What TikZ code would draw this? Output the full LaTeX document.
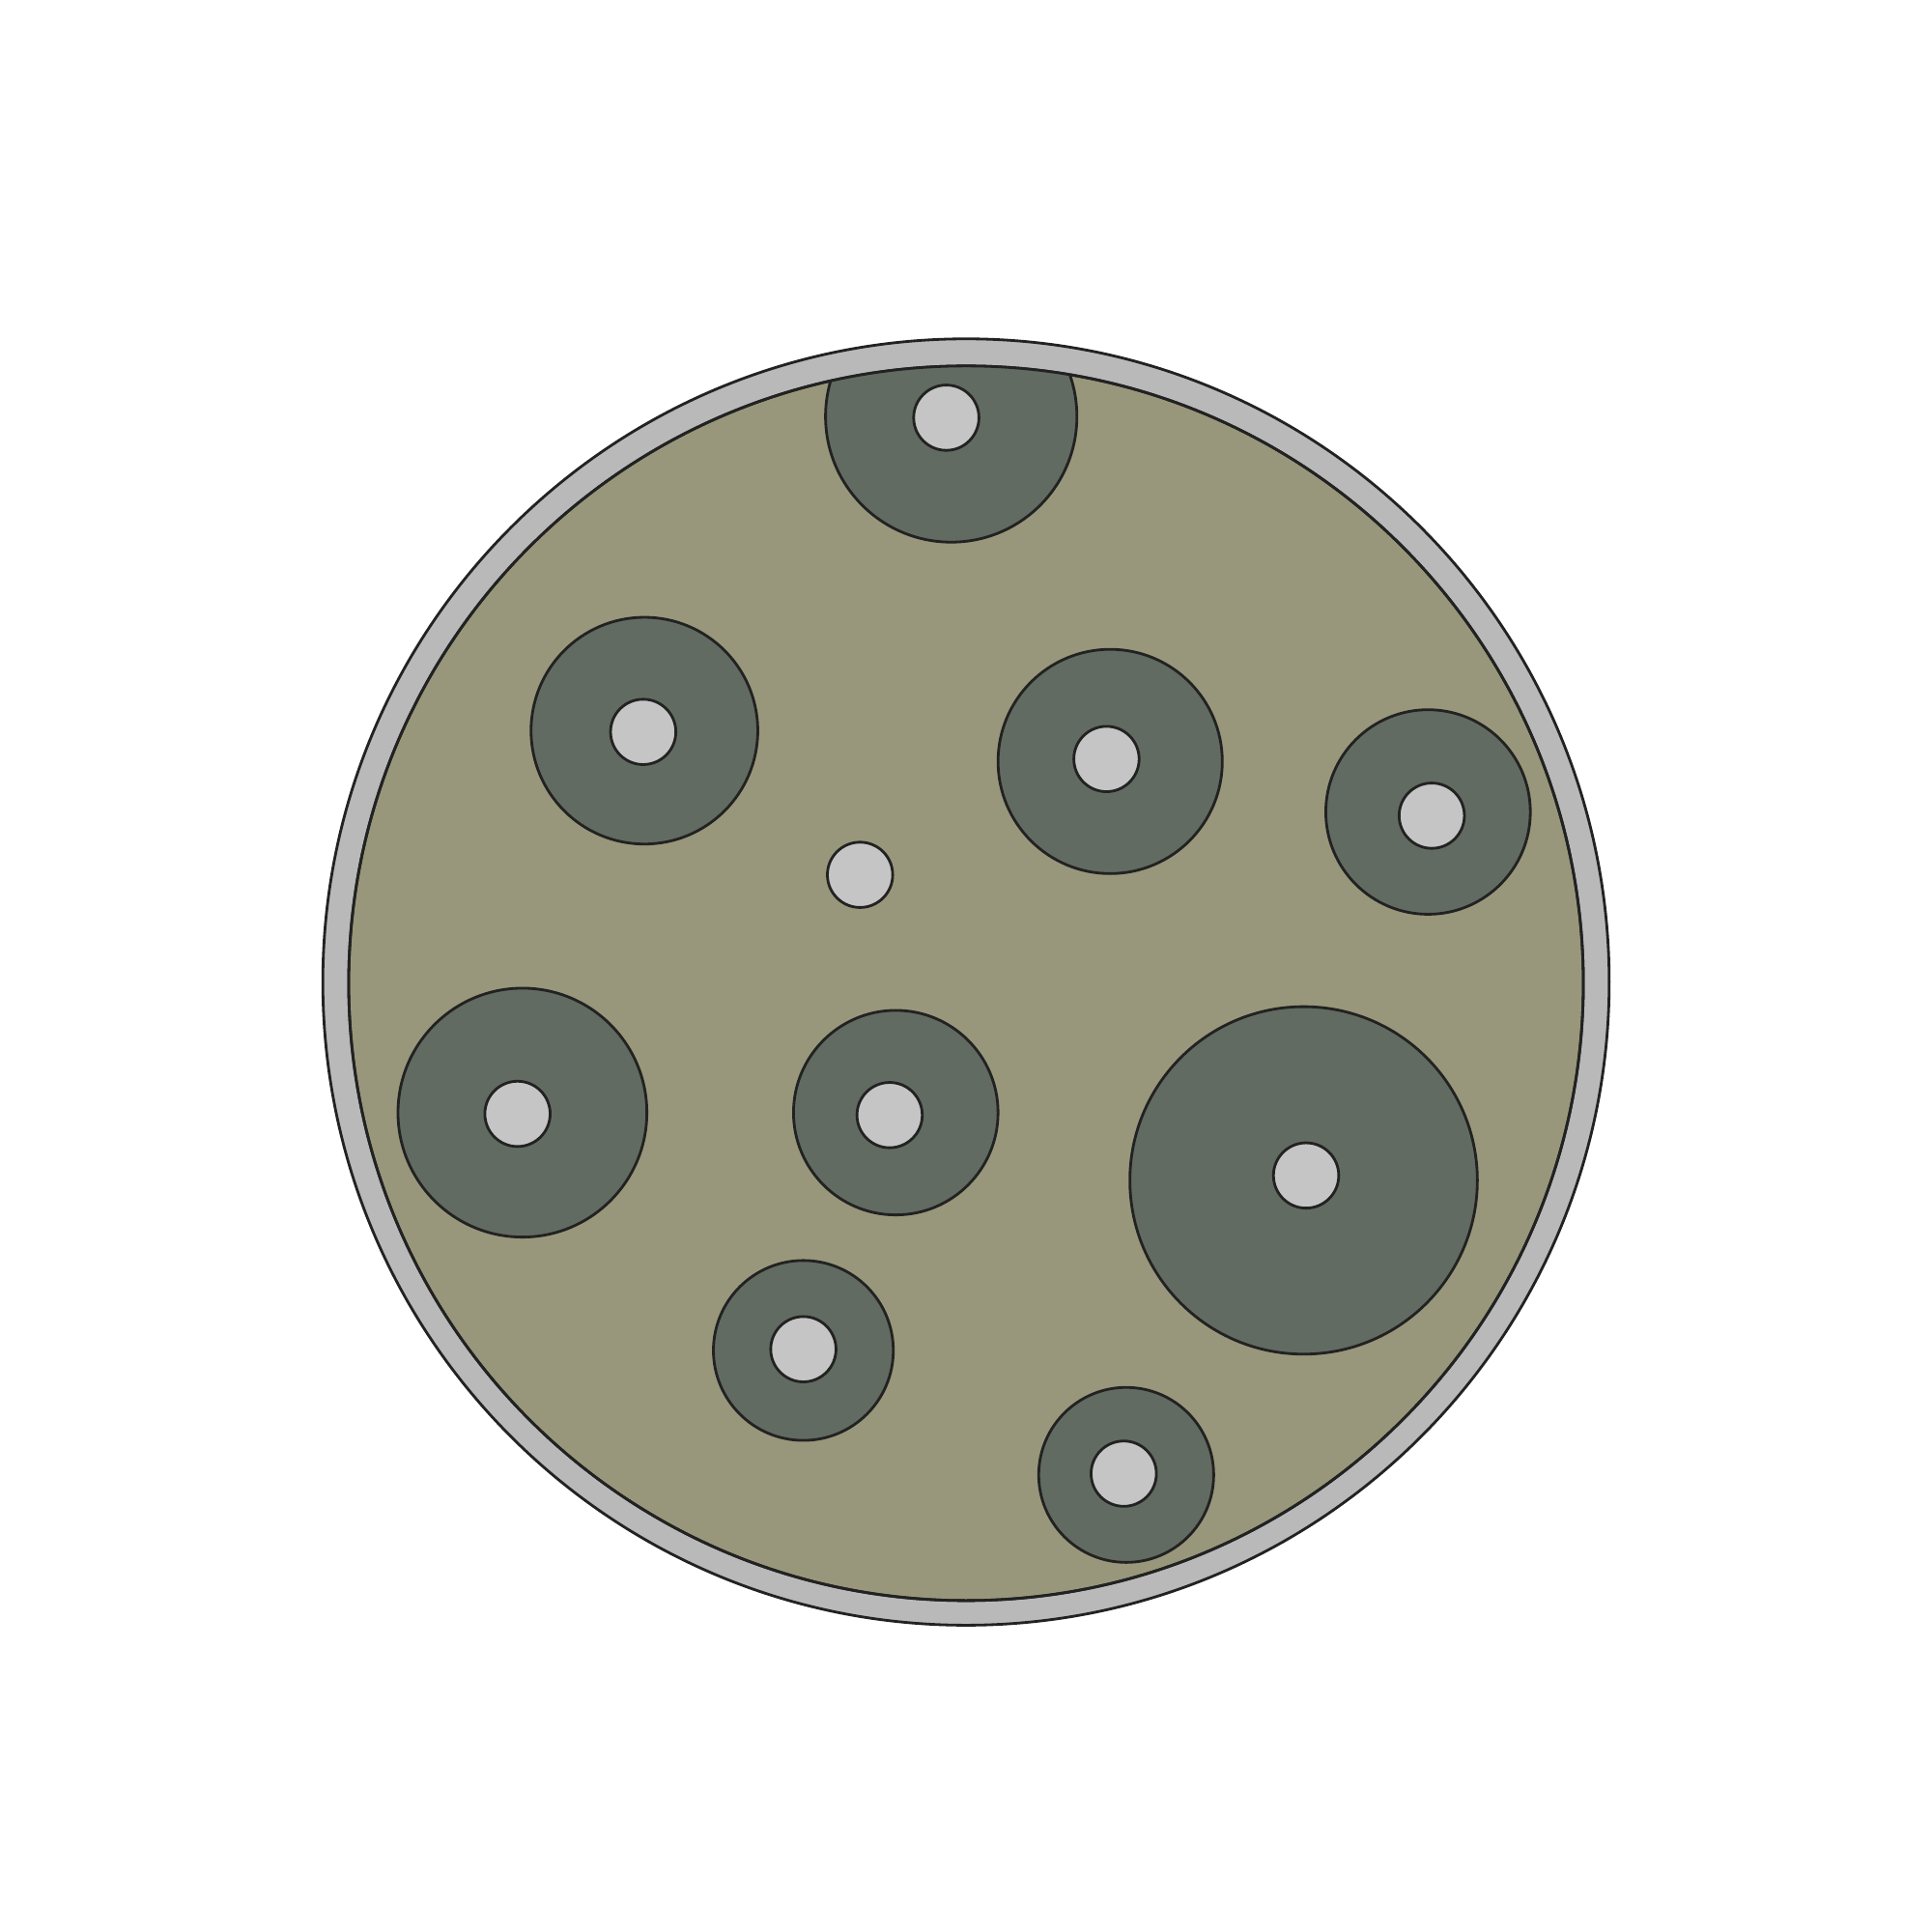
\documentclass[tikz,border=0pt]{standalone}
\usepackage{tikz}
\usepackage{xcolor}
\definecolor{rimgray}{HTML}{B9B9B9}
\definecolor{agar}{HTML}{99977B}
\definecolor{zone}{HTML}{626B61}
\definecolor{disk}{HTML}{C5C5C5}
\definecolor{edge}{HTML}{222222}

\begin{document}
\begin{tikzpicture}[
  x=0.012755cm, y=-0.012755cm,
  outline/.style={draw=edge,line width=0.8pt},
  rim/.style={outline,fill=rimgray},
  medium/.style={outline,fill=agar},
  halo/.style={outline,fill=zone},
  tablet/.style={outline,fill=disk}
]
  \useasboundingbox (0,0) rectangle (1568,1568);

  % dish and agar
  \draw[rim] (784,797) circle (522);
  \draw[medium] (784,798) circle (501);

  % inhibition zones, clipped to the agar
  \begin{scope}
    \clip (784,798) circle (501);
    \foreach \zx/\zy/\zr in {772/338/102, 523/593/92, 901/618/91, 1159/659/83,
                             424/903/101, 727/903/83, 1058/958/141,
                             652/1096/73, 914/1197/71}
      \draw[halo] (\zx,\zy) circle (\zr);
  \end{scope}
  \draw[outline] (784,798) circle (501);

  % antibiotic disks
  \foreach \dx/\dy in {768/339, 522/594, 698/710, 898/616, 1162/662,
                       420/904, 722/905, 1060/954, 652/1095, 912/1196}
    \draw[tablet] (\dx,\dy) circle (26.5);
\end{tikzpicture}
\end{document}
